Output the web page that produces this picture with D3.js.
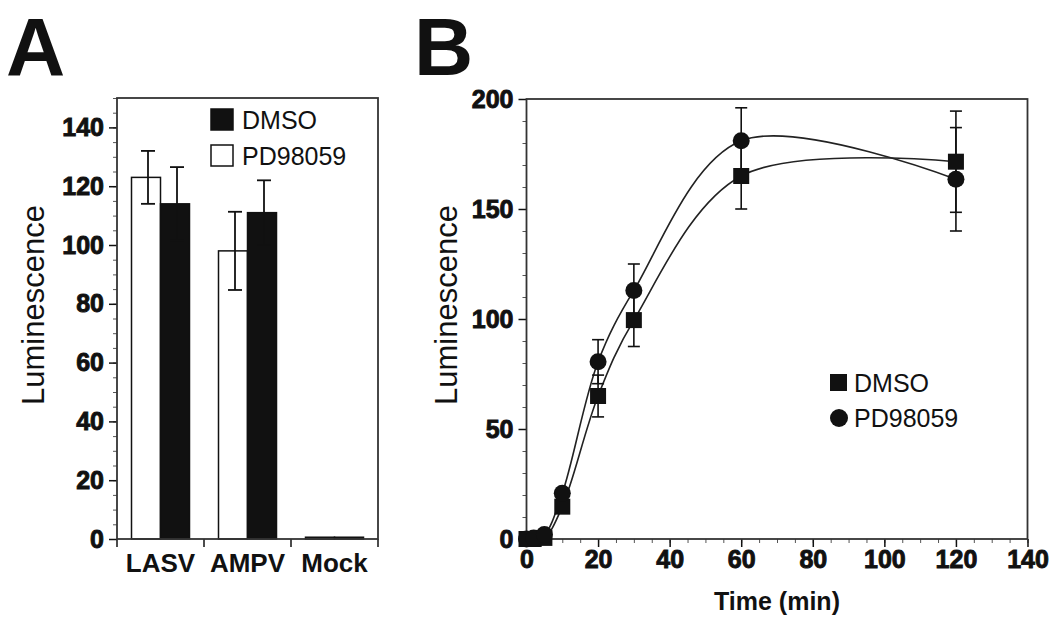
<!DOCTYPE html>
<html>
<head>
<meta charset="utf-8">
<script src="https://cdn.jsdelivr.net/npm/d3@7"></script>
<style>
  body { margin: 0; background: #fff; }
  svg text { font-family: "Liberation Sans", Arial, Helvetica, sans-serif; fill: #111; }
</style>
</head>
<body>
<div id="chart"></div>
<script>
// ---- panel A data (bar chart) ----
const barCategories = ['LASV', 'AMPV', 'Mock'];
const barSeries = ['PD98059', 'DMSO'];
const pdValues = [123, 98, 0.6];
const pdErrors = [9, 13.3, 0];
const dmsoValues = [114, 111, 0.6];
const dmsoErrors = [12.5, 11, 0];
const barTicks = [0, 20, 40, 60, 80, 100, 120, 140];

// ---- panel B data (time course) ----
const timePoints = [0, 2, 5, 10, 20, 30, 60, 120];
const dmsoLum = [0, 0, 0.5, 14.7, 65, 99.5, 165, 171.5];
const dmsoLumErr = [0, 0, 0, 0, 9.5, 12, 15, 23];
const pdLum = [0, 0.5, 2, 20.8, 80.6, 113, 181, 163.5];
const pdLumErr = [0, 0, 0, 0, 10, 12, 15, 23.5];
const timeTicks = [0, 20, 40, 60, 80, 100, 120, 140];
const lumTicks = [0, 50, 100, 150, 200];

const W = 1050, H = 619;
const svg = d3.select('#chart').append('svg')
  .attr('width', W)
  .attr('height', H);

const ink = '#111';

// panel letters
svg.append('text').attr('x', 6).attr('y', 75)
  .style('font-size', '82px').style('font-weight', 'bold').text('A');
svg.append('text').attr('x', 414).attr('y', 75)
  .style('font-size', '82px').style('font-weight', 'bold').text('B');

// heavy tick label style
function heavy(g) {
  g.selectAll('text')
    .style('font-size', '25px').style('font-weight', 'bold')
    .attr('stroke', ink).attr('stroke-width', 0.9);
}

// ================= Panel A =================
const a = { left: 117, right: 378, top: 98, bottom: 539 };

const xA = d3.scaleBand()
  .domain(barCategories)
  .range([a.left, a.right])
  .padding(0);

const xSub = d3.scaleBand()
  .domain(barSeries)
  .range([0, xA.bandwidth()])
  .paddingInner(0)
  .paddingOuter(0.5);

const yA = d3.scaleLinear().domain([0, 150]).range([a.bottom, a.top]);

const gA = svg.append('g');

// y minor ticks
gA.append('g')
  .attr('transform', `translate(${a.left},0)`)
  .call(d3.axisLeft(yA).tickValues(d3.range(0, 151, 5)).tickSize(4).tickFormat(''))
  .call(g => g.select('.domain').remove())
  .call(g => g.selectAll('line').attr('stroke', '#555'));

// y major ticks
gA.append('g')
  .attr('transform', `translate(${a.left},0)`)
  .call(d3.axisLeft(yA).tickValues(barTicks).tickSize(8).tickPadding(5))
  .call(g => g.select('.domain').remove())
  .call(g => g.selectAll('line').attr('stroke', ink).attr('stroke-width', 1.5))
  .call(heavy);

// x axis: ticks at band boundaries, labels centered
const bandEdges = barCategories.map(c => xA(c)).concat([a.right]);
gA.selectAll('.xedge')
  .data(bandEdges)
  .enter().append('line')
  .attr('x1', d => d).attr('x2', d => d)
  .attr('y1', a.bottom).attr('y2', a.bottom + 8)
  .attr('stroke', ink).attr('stroke-width', 1.5);

gA.selectAll('.xlab')
  .data(barCategories)
  .enter().append('text')
  .attr('x', d => xA(d) + xA.bandwidth() / 2)
  .attr('y', 572)
  .attr('text-anchor', 'middle')
  .style('font-size', '26px')
  .style('font-weight', 'bold')
  .text(d => d);

// bars
const barData = [];
barCategories.forEach((c, i) => {
  barData.push({ cat: c, series: 'PD98059', v: pdValues[i], e: pdErrors[i] });
  barData.push({ cat: c, series: 'DMSO', v: dmsoValues[i], e: dmsoErrors[i] });
});

gA.selectAll('.bar')
  .data(barData)
  .enter().append('rect')
  .attr('x', d => xA(d.cat) + xSub(d.series))
  .attr('y', d => yA(d.v))
  .attr('width', xSub.bandwidth())
  .attr('height', d => yA(0) - yA(d.v))
  .attr('fill', d => d.series === 'DMSO' ? ink : '#fff')
  .attr('stroke', ink)
  .attr('stroke-width', 1.5);

// error bars
const errA = gA.selectAll('.err')
  .data(barData.filter(d => d.e > 0))
  .enter().append('g')
  .attr('stroke', ink)
  .attr('stroke-width', 1.8);

const errX = d => xA(d.cat) + xSub(d.series) + xSub.bandwidth() / 2 + 2;
errA.append('line')
  .attr('x1', errX).attr('x2', errX)
  .attr('y1', d => yA(d.v - d.e))
  .attr('y2', d => yA(d.v + d.e));
[1, -1].forEach(s => {
  errA.append('line')
    .attr('x1', d => errX(d) - 7)
    .attr('x2', d => errX(d) + 7)
    .attr('y1', d => yA(d.v + s * d.e))
    .attr('y2', d => yA(d.v + s * d.e));
});

// frame
gA.append('rect')
  .attr('x', a.left).attr('y', a.top)
  .attr('width', a.right - a.left).attr('height', a.bottom - a.top)
  .attr('fill', 'none').attr('stroke', '#333').attr('stroke-width', 1.8);

// y title
gA.append('text')
  .attr('transform', 'translate(44,305) rotate(-90)')
  .attr('text-anchor', 'middle')
  .style('font-size', '31px')
  .text('Luminescence');

// legend A
const legA = [
  { label: 'DMSO', fill: ink, y: 109 },
  { label: 'PD98059', fill: '#fff', y: 145 }
];
legA.forEach(d => {
  gA.append('rect').attr('x', 211).attr('y', d.y).attr('width', 22).attr('height', 21)
    .attr('fill', d.fill).attr('stroke', ink).attr('stroke-width', 1.5);
  gA.append('text').attr('x', 242).attr('y', d.y + 20)
    .style('font-size', '25px').text(d.label);
});

// ================= Panel B =================
const b = { left: 526.5, right: 1027.5, top: 99, bottom: 539 };

const xB = d3.scaleLinear().domain([0, 140]).range([b.left, b.right]);
const yB = d3.scaleLinear().domain([0, 200]).range([b.bottom, b.top]);

const gB = svg.append('g');

// minor ticks
gB.append('g')
  .attr('transform', `translate(${b.left},0)`)
  .call(d3.axisLeft(yB).tickValues(d3.range(0, 201, 10)).tickSize(4).tickFormat(''))
  .call(g => g.select('.domain').remove())
  .call(g => g.selectAll('line').attr('stroke', '#555'));
gB.append('g')
  .attr('transform', `translate(0,${b.bottom})`)
  .call(d3.axisBottom(xB).tickValues(d3.range(0, 141, 5)).tickSize(4).tickFormat(''))
  .call(g => g.select('.domain').remove())
  .call(g => g.selectAll('line').attr('stroke', '#555'));

// major ticks
gB.append('g')
  .attr('transform', `translate(${b.left},0)`)
  .call(d3.axisLeft(yB).tickValues(lumTicks).tickSize(8).tickPadding(5))
  .call(g => g.select('.domain').remove())
  .call(g => g.selectAll('line').attr('stroke', ink).attr('stroke-width', 1.5))
  .call(heavy);
gB.append('g')
  .attr('transform', `translate(0,${b.bottom})`)
  .call(d3.axisBottom(xB).tickValues(timeTicks).tickSize(8).tickPadding(3))
  .call(g => g.select('.domain').remove())
  .call(g => g.selectAll('line').attr('stroke', ink).attr('stroke-width', 1.5))
  .call(heavy);

// frame
gB.append('rect')
  .attr('x', b.left).attr('y', b.top)
  .attr('width', b.right - b.left).attr('height', b.bottom - b.top)
  .attr('fill', 'none').attr('stroke', '#333').attr('stroke-width', 1.8);

// titles
gB.append('text')
  .attr('x', 777)
  .attr('y', 610)
  .attr('text-anchor', 'middle')
  .style('font-size', '25px')
  .style('font-weight', 'bold')
  .text('Time (min)');
gB.append('text')
  .attr('transform', 'translate(457,305) rotate(-90)')
  .attr('text-anchor', 'middle')
  .style('font-size', '31px')
  .text('Luminescence');

const seriesB = [
  { name: 'DMSO', vals: dmsoLum, errs: dmsoLumErr, shape: 'square' },
  { name: 'PD98059', vals: pdLum, errs: pdLumErr, shape: 'circle' }
];

const line = d3.line()
  .x(d => xB(d.t))
  .y(d => yB(d.v))
  .curve(d3.curveCatmullRom.alpha(0.5));

seriesB.forEach(s => {
  s.pts = timePoints.map((t, i) => ({ t, v: s.vals[i], e: s.errs[i] }));
  gB.append('path')
    .datum(s.pts)
    .attr('d', line)
    .attr('fill', 'none')
    .attr('stroke', '#222')
    .attr('stroke-width', 1.6);
});

// error bars B
seriesB.forEach(s => {
  const eg = gB.selectAll(null)
    .data(s.pts.filter(d => d.e > 0))
    .enter().append('g')
    .attr('stroke', ink).attr('stroke-width', 1.6);
  eg.append('line')
    .attr('x1', d => xB(d.t)).attr('x2', d => xB(d.t))
    .attr('y1', d => yB(d.v - d.e)).attr('y2', d => yB(d.v + d.e));
  [1, -1].forEach(k => {
    eg.append('line')
      .attr('x1', d => xB(d.t) - 6).attr('x2', d => xB(d.t) + 6)
      .attr('y1', d => yB(d.v + k * d.e)).attr('y2', d => yB(d.v + k * d.e));
  });
});

// markers
seriesB.forEach(s => {
  if (s.shape === 'square') {
    gB.selectAll(null).data(s.pts).enter().append('rect')
      .attr('x', d => xB(d.t) - 8).attr('y', d => yB(d.v) - 8)
      .attr('width', 16).attr('height', 16)
      .attr('fill', ink);
  } else {
    gB.selectAll(null).data(s.pts).enter().append('circle')
      .attr('cx', d => xB(d.t)).attr('cy', d => yB(d.v))
      .attr('r', 8.5)
      .attr('fill', ink);
  }
});

// legend B
gB.append('rect').attr('x', 830).attr('y', 374).attr('width', 17).attr('height', 17).attr('fill', ink);
gB.append('text').attr('x', 854).attr('y', 392).style('font-size', '25px').text('DMSO');
gB.append('circle').attr('cx', 839).attr('cy', 418).attr('r', 9).attr('fill', ink);
gB.append('text').attr('x', 854).attr('y', 427).style('font-size', '25px').text('PD98059');
</script>
</body>
</html>
